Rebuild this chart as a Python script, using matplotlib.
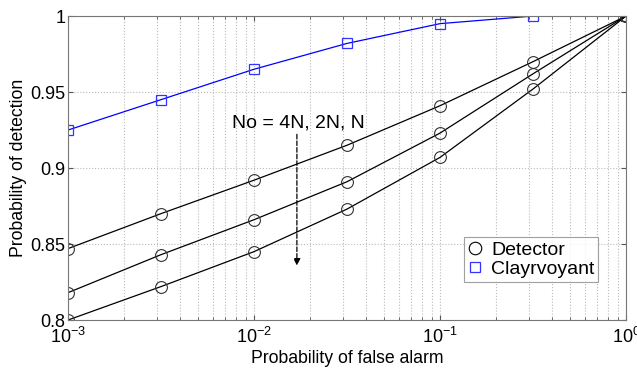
import matplotlib
matplotlib.use('Agg')
import matplotlib.pyplot as plt

plt.rcParams['font.family'] = ['Liberation Sans', 'DejaVu Sans']
plt.rcParams['mathtext.fontset'] = 'custom'
plt.rcParams['mathtext.rm'] = 'Liberation Sans'
plt.rcParams['mathtext.it'] = 'Liberation Sans'

pfa = [1e-3, 10**-2.5, 1e-2, 10**-1.5, 1e-1, 10**-0.5, 1.0]
clairvoyant = [0.925, 0.945, 0.965, 0.982, 0.995, 1.0, 1.0]
det_4n = [0.847, 0.870, 0.892, 0.915, 0.941, 0.970, 1.0]
det_2n = [0.818, 0.843, 0.866, 0.891, 0.923, 0.962, 1.0]
det_n = [0.800, 0.822, 0.845, 0.873, 0.907, 0.952, 1.0]

fig = plt.figure(figsize=(6.37, 3.68), dpi=100)
ax = fig.add_axes([0.1068, 0.1304, 0.876, 0.826])

ax.plot(pfa, clairvoyant, color='#0000ff', lw=0.9, marker='s', ms=7,
        mfc='none', mec='#3333ff', mew=0.9)
for d in [det_4n, det_2n, det_n]:
    ax.plot(pfa, d, color='black', lw=0.9, marker='o', ms=8.5,
            mfc='none', mec='#333333', mew=0.8)

ax.set_xscale('log')
ax.set_xlim(1e-3, 1)
ax.set_ylim(0.8, 1.0)
ax.set_yticks([0.8, 0.85, 0.9, 0.95, 1.0])
ax.set_yticklabels(['0.8', '0.85', '0.9', '0.95', '1'])
ax.grid(True, which='major', ls=':', color='#bbbbbb', lw=0.8)
ax.grid(True, which='minor', axis='x', ls=':', color='#bbbbbb', lw=0.8)
ax.tick_params(which='both', direction='in', top=True, right=True,
               labelsize=13, color='#555555', pad=2)
ax.tick_params(axis='x', which='major', pad=5)
for s in ax.spines.values():
    s.set_color('#777777')

ax.set_xlabel('Probability of false alarm', fontsize=12.7, labelpad=2)
ax.set_ylabel('Probability of detection', fontsize=12.7, labelpad=2)

ax.text(0.0076, 0.9296, 'No = 4N, 2N, N', fontsize=14, va='center')
ax.annotate('', xy=(0.017, 0.834), xytext=(0.017, 0.924),
            arrowprops=dict(arrowstyle='-|>', ls='--', color='black', lw=0.9,
                            mutation_scale=10))

h1, = ax.plot([], [], ls='none', marker='o', ms=9, mfc='none', mec='black', mew=0.8)
h2, = ax.plot([], [], ls='none', marker='s', ms=7, mfc='none', mec='#3333ff', mew=0.9)
leg = ax.legend([h1, h2], ['Detector', 'Clayrvoyant'], loc='lower right',
                bbox_to_anchor=(0.95, 0.125), fontsize=14, fancybox=False,
                handlelength=0.8, handletextpad=0.4, borderpad=0.2,
                labelspacing=0.1, borderaxespad=0)
leg.get_frame().set_edgecolor('#888888')
leg.get_frame().set_linewidth(0.8)

fig.savefig('out.png', dpi=100)
